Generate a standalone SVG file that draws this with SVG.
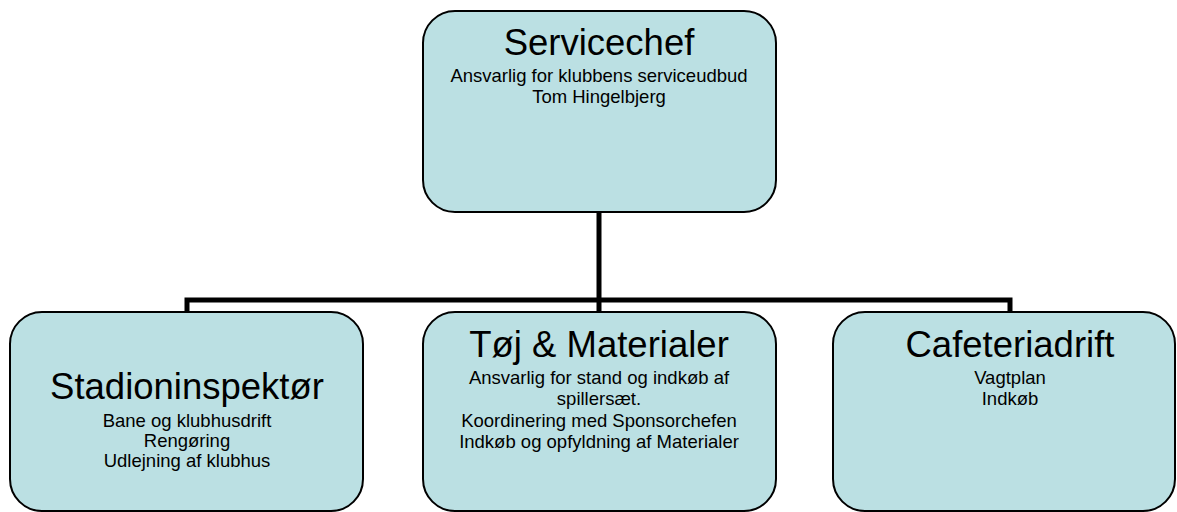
<svg xmlns="http://www.w3.org/2000/svg" width="1177" height="512" viewBox="0 0 1177 512">
<style>
.box{fill:#BBE0E3;stroke:#000;stroke-width:2}
.t{font-family:"Liberation Sans",Arial,sans-serif;text-anchor:middle;fill:#000}
.h{font-size:36.5px}
.s{font-size:18.5px}
.c{fill:none;stroke:#000;stroke-width:5}
</style>
<g id="connectors">
<path class="c" d="M599 212 V312"/>
<path class="c" d="M187 312 V300 H1010 V312"/>
</g>
<g id="servicechef">
<rect class="box" x="423" y="11" width="353" height="201" rx="32"/>
<text class="t h" x="599" y="55">Servicechef</text>
<text class="t s" x="599" y="82">Ansvarlig for klubbens serviceudbud</text>
<text class="t s" x="599" y="103">Tom Hingelbjerg</text>
</g>
<g id="stadioninspektor">
<rect class="box" x="10" y="312" width="353" height="199" rx="32"/>
<text class="t h" x="187" y="399">Stadioninspektør</text>
<text class="t s" x="187" y="427">Bane og klubhusdrift</text>
<text class="t s" x="187" y="447">Rengøring</text>
<text class="t s" x="187" y="467">Udlejning af klubhus</text>
</g>
<g id="toej">
<rect class="box" x="423" y="312" width="353" height="199" rx="32"/>
<text class="t h" x="599" y="357">Tøj &amp; Materialer</text>
<text class="t s" x="599" y="384">Ansvarlig for stand og indkøb af</text>
<text class="t s" x="599" y="405">spillersæt.</text>
<text class="t s" x="599" y="427">Koordinering med Sponsorchefen</text>
<text class="t s" x="599" y="448">Indkøb og opfyldning af Materialer</text>
</g>
<g id="cafeteriadrift">
<rect class="box" x="833" y="312" width="342" height="199" rx="32"/>
<text class="t h" x="1010" y="357">Cafeteriadrift</text>
<text class="t s" x="1010" y="384">Vagtplan</text>
<text class="t s" x="1010" y="405">Indkøb</text>
</g>
</svg>
